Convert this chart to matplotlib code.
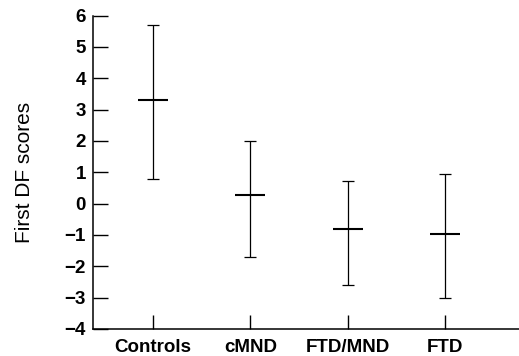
import matplotlib
matplotlib.use("Agg")
from matplotlib import pyplot as plt

groups = ["Controls", "cMND", "FTD/MND", "FTD"]
means = [3.3, 0.27, -0.8, -0.97]
upper = [5.7, 2.0, 0.72, 0.94]
lower = [0.8, -1.7, -2.6, -3.0]
yticks = [-4, -3, -2, -1, 0, 1, 2, 3, 4, 5, 6]

plt.rcParams["font.family"] = ["Liberation Sans", "DejaVu Sans"]

fig = plt.figure(figsize=(5.19, 3.56), dpi=100)
ax = fig.add_axes([0.179, 0.076, 0.821, 0.88])

xs = list(range(1, len(groups) + 1))
err_lo = [m - l for m, l in zip(means, lower)]
err_hi = [u - m for m, u in zip(means, upper)]

# whiskers with caps
ax.errorbar(xs, means, yerr=[err_lo, err_hi], fmt="none", ecolor="black",
            elinewidth=0.9, capsize=4.3, capthick=0.9)
# mean bars
ax.plot(xs, means, linestyle="none", marker="_", markersize=21,
        markeredgewidth=1.5, color="black")

ax.set_xlim(0.38, 4.76)
ax.set_ylim(-4, 6)
ax.set_xticks(xs)
ax.set_xticklabels(groups, fontsize=13.5, fontweight="bold")
ax.set_yticks(yticks)
ax.set_yticklabels([str(t).replace("-", "\u2212") for t in yticks],
                   fontsize=13.5, fontweight="bold")

ax.spines["top"].set_visible(False)
ax.spines["right"].set_visible(False)
ax.spines["left"].set_linewidth(1.1)
ax.spines["bottom"].set_linewidth(1.1)
ax.tick_params(axis="y", direction="in", length=11, width=1.0, pad=5)
ax.tick_params(axis="x", direction="in", length=10, width=1.0, pad=7)

ax.set_ylabel("First DF scores", fontsize=15, labelpad=22)

plt.savefig("out.png", dpi=100)
